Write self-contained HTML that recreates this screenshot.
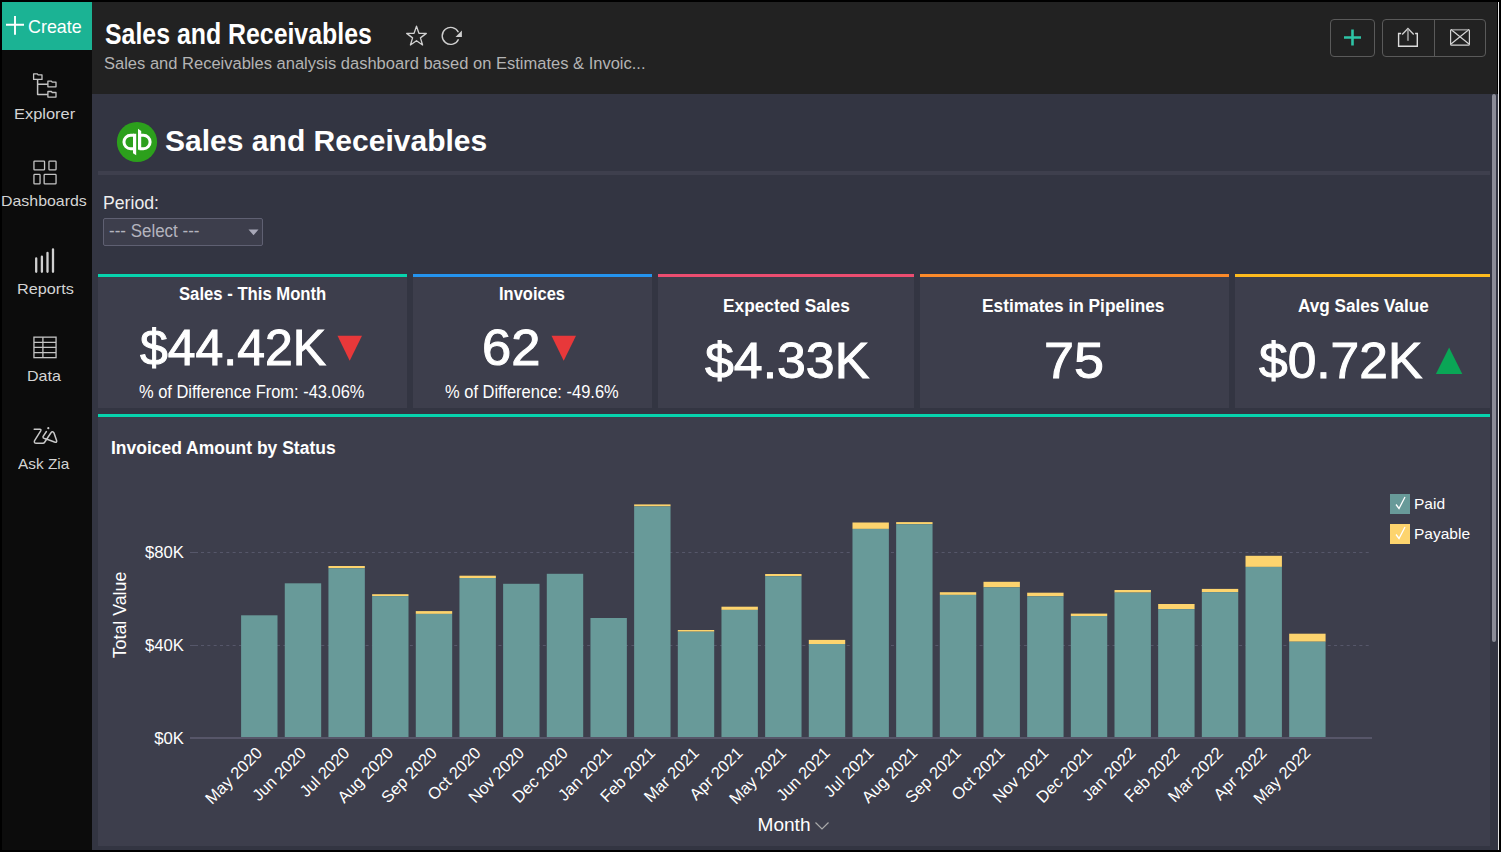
<!DOCTYPE html>
<html><head><meta charset="utf-8">
<style>
*{margin:0;padding:0;box-sizing:border-box}
html,body{width:1501px;height:852px;overflow:hidden;background:#000}
body{position:relative;font-family:"Liberation Sans",sans-serif;color:#fff}
.a{position:absolute}
.t{position:absolute;white-space:nowrap;line-height:1;transform-origin:0 0}
</style></head><body>

<style>
#hdr{left:2px;top:2px;width:1495px;height:92px;background:#222222}
#rline{left:1498px;top:2px;width:1px;height:848px;background:#e6e6e6}
#side{left:2px;top:2px;width:90px;height:848px;background:#0c0c0c}
#create{left:2px;top:2px;width:90px;height:48px;background:#1bb394}
#dash{left:92px;top:94px;width:1406px;height:756px;background:#333542}
.card{position:absolute;top:274px;height:134px;background:#3d3e4c}
.card .bar{position:absolute;left:0;top:0;right:0;height:3px}
.btn{border:1px solid #5a5a5a;border-radius:4px}
</style>
<div id="hdr" class="a"></div>
<div id="rline" class="a"></div>
<div id="side" class="a"></div>
<div id="create" class="a"></div>
<div id="dash" class="a"></div>

<!-- create -->
<svg class="a" style="left:6px;top:16px" width="18" height="19"><path d="M9 0V18.8M0 8.8H18" stroke="#fff" stroke-width="1.9"/></svg>

<!-- sidebar nav -->
<svg class="a" style="left:30px;top:70px" width="30" height="32" fill="none" stroke="#c4c4c4" stroke-width="1.3" stroke-linejoin="round">
<path d="M3.6 9.4V3.8H7.3L8.1 4.8H12V9.4Z"/>
<path d="M17.9 16.8V11.2H21.4L22.2 12.2H26V16.8Z"/>
<path d="M17.9 27.1V21.5H21.4L22.2 22.5H26V27.1Z"/>
<path d="M7.6 9.4V24.6H17.9M7.6 14.3H17.9" stroke-width="1.5"/>
</svg>

<svg class="a" style="left:30px;top:158px" width="30" height="30" fill="none" stroke="#c4c4c4" stroke-width="1.3">
<rect x="3.95" y="3.15" width="10.6" height="8.7" rx="0.7"/>
<rect x="18.95" y="3.15" width="7.1" height="8.7" rx="0.7"/>
<rect x="3.95" y="16.45" width="6.1" height="9.4" rx="0.7"/>
<rect x="14.15" y="16.45" width="11.9" height="9.4" rx="0.7"/>
</svg>

<svg class="a" style="left:30px;top:245px" width="30" height="30" fill="none" stroke="#d0d0d0" stroke-width="2.3" stroke-linecap="round">
<path d="M6.2 13.4V26.8M11.9 11.7V26.8M17.5 8V26.8M23 4.3V26.8"/>
</svg>

<svg class="a" style="left:30px;top:334px" width="30" height="28" fill="none" stroke="#c4c4c4" stroke-width="1.3">
<rect x="3.95" y="3.15" width="22.1" height="20.5"/>
<path d="M3.95 8.3H26.05M3.95 13.3H26.05M3.95 18.7H26.05M12.9 3.15V23.65"/>
</svg>

<svg class="a" style="left:30px;top:424px" width="30" height="24" fill="none" stroke="#c8c8c8" stroke-width="1.5" stroke-linejoin="round" stroke-linecap="round">
<path d="M4.2 5.3H9.8Q11.5 5.3 10.7 6.9L4.6 16.6Q3.6 19.3 6.4 19.3H13Q14 19.3 14.8 18L20.8 9Q22.6 6.6 24.1 9.2L26.6 16.4Q27.2 18.9 24.5 18L17 15.2"/>
<path d="M16.4 7.5L13 12.6Q12.7 14 14.5 14.6L17 15.2"/>
<circle cx="18.3" cy="4.2" r="1.1" fill="#c8c8c8" stroke="none"/>
</svg>

<!-- header -->
<svg class="a" style="left:400px;top:20px" width="70" height="32" fill="none" stroke="#d0d0d0" stroke-width="1.4">
<g transform="translate(16.5 16) scale(0.935) translate(-16.5 -16)"><path d="M16.5 5.5L19.1 13.1L27 13.2L20.7 18L23 25.6L16.5 21L10 25.6L12.3 18L6 13.2L13.9 13.1Z" stroke-linejoin="round"/></g>
<path d="M58.4 12.3A8.5 8.5 0 1 0 58.5 19.2"/>
<path d="M55.5 16.9L61.9 10.5V16.9Z" fill="#d0d0d0" stroke="none"/>
</svg>

<div class="a btn" style="left:1330px;top:19px;width:45px;height:38px"></div>
<svg class="a" style="left:1330px;top:19px" width="45" height="38"><path d="M22.5 10.5V26.5M14 18.5H31" stroke="#2ec4a6" stroke-width="2.6"/></svg>
<div class="a btn" style="left:1382px;top:19px;width:104px;height:38px"></div>
<div class="a" style="left:1434px;top:19px;width:1px;height:38px;background:#5a5a5a"></div>
<svg class="a" style="left:1382px;top:19px" width="104" height="38" fill="none">
<path d="M19.1 14.55H16.6V27.2H35.3V14.55H33.1" stroke="#dcdcdc" stroke-width="1.4"/>
<path d="M20.15 15.4L25.95 9.6L31.75 15.5" stroke="#cfcfcf" stroke-width="1.4"/>
<path d="M25.95 10.6V21.8" stroke="#8a8a8a" stroke-width="2"/>
<rect x="68.6" y="10.6" width="18.8" height="15.6" rx="1" stroke="#d4d4d4" stroke-width="1.2"/>
<path d="M69.6 11L87 25M86.4 11L69 25" stroke="#d4d4d4" stroke-width="1.2"/>
<path d="M70 10.6H86" stroke="#8c8c8c" stroke-width="1.3"/>
</svg>

<!-- scrollbar -->
<div class="a" style="left:1492px;top:94px;width:4px;height:548px;background:#8a8b96;border-radius:2px"></div>

<!-- dashboard title -->
<svg class="a" style="left:116px;top:121px" width="42" height="42">
<circle cx="21" cy="21" r="20.1" fill="#2ca01c"/>
<path d="M18 14.3H14.65A6.7 6.7 0 0 0 14.65 27.7H18" fill="none" stroke="#fff" stroke-width="3"/>
<path d="M23.5 27.7H27.4A6.7 6.7 0 0 0 27.4 14.3H23.5" fill="none" stroke="#fff" stroke-width="3"/>
<path d="M17 12.8H20.2V34.3L17 32.2Z" fill="#fff"/>
<path d="M22 7.8L25.2 9.9V28.7H22Z" fill="#fff"/>
</svg>
<div class="a" style="left:98px;top:171px;width:1392px;height:4px;background:#3e3f4d"></div>

<div class="a" style="left:103px;top:218px;width:160px;height:28px;border:1px solid #5f6072;border-radius:2px;background:#3d3e4c"></div>
<svg class="a" style="left:247px;top:228px" width="13" height="9"><path d="M1.5 1.5H11.5L6.5 7.3Z" fill="#a8a8b8"/></svg>

<!-- KPI cards -->
<div class="card" style="left:98px;width:309px"><div class="bar" style="background:#07d3ad"></div></div>
<div class="card" style="left:413px;width:239px"><div class="bar" style="background:#2493ee"></div></div>
<div class="card" style="left:658px;width:256px"><div class="bar" style="background:#ec4d70"></div></div>
<div class="card" style="left:920px;width:309px"><div class="bar" style="background:#fb8a2a"></div></div>
<div class="card" style="left:1235px;width:255px"><div class="bar" style="background:#fdbb1e"></div></div>

<!-- KPI text -->
<svg class="a" style="left:337px;top:335px" width="26" height="26"><path d="M0.5 0.8H25L12.7 25.8Z" fill="#e8383a"/></svg>

<svg class="a" style="left:551.3px;top:335px" width="26" height="26"><path d="M0.5 0.8H25L12.7 25.8Z" fill="#e8383a"/></svg>



<svg class="a" style="left:1435px;top:346px" width="29" height="29"><path d="M0.9 28.1H27.3L14.1 1.4Z" fill="#0aa656"/></svg>

<!-- CHART_PANEL -->
<div class="a" style="left:98px;top:414px;width:1392px;height:432px;background:#3d3e4c"></div>
<div class="a" style="left:98px;top:414px;width:1392px;height:3px;background:#07d3ad"></div>


<div class="t" style="left:28.42px;top:18.26px;font-size:18.5px;font-weight:normal;color:#ffffff;transform:scaleX(0.9670)">Create</div>
<div class="t" style="left:14.09px;top:106.05px;font-size:15px;font-weight:normal;color:#d4d4d4;transform:scaleX(1.0948)">Explorer</div>
<div class="t" style="left:1.43px;top:193.05px;font-size:15px;font-weight:normal;color:#d4d4d4;transform:scaleX(1.0608)">Dashboards</div>
<div class="t" style="left:17.19px;top:281.25px;font-size:15px;font-weight:normal;color:#d4d4d4;transform:scaleX(1.0827)">Reports</div>
<div class="t" style="left:27.44px;top:368.05px;font-size:15px;font-weight:normal;color:#d4d4d4;transform:scaleX(1.0713)">Data</div>
<div class="t" style="left:18.48px;top:455.55px;font-size:15px;font-weight:normal;color:#d4d4d4;transform:scaleX(1.0241)">Ask Zia</div>
<div class="t" style="left:105.14px;top:20.19px;font-size:29px;font-weight:bold;color:#ffffff;transform:scaleX(0.8575)">Sales and Receivables</div>
<div class="t" style="left:103.89px;top:54.99px;font-size:16.3px;font-weight:normal;color:#b4b4b4;transform:scaleX(1.0142)">Sales and Receivables analysis dashboard based on Estimates &amp; Invoic...</div>
<div class="t" style="left:164.50px;top:125.60px;font-size:30px;font-weight:bold;color:#ffffff;transform:scaleX(1.0013)">Sales and Receivables</div>
<div class="t" style="left:102.75px;top:195.39px;font-size:17.5px;font-weight:normal;color:#eeeeee;transform:scaleX(1.0092)">Period:</div>
<div class="t" style="left:109.06px;top:222.09px;font-size:18px;font-weight:normal;color:#b4b4be;transform:scaleX(0.9426)">--- Select ---</div>
<div class="t" style="left:178.59px;top:285.06px;font-size:18.8px;font-weight:bold;color:#ffffff;transform:scaleX(0.8876)">Sales - This Month</div>
<div class="t" style="left:139.71px;top:322.56px;font-size:49.3px;font-weight:normal;color:#ffffff;transform:scaleX(1.0124);-webkit-text-stroke:1.0px #ffffff">$44.42K</div>
<div class="t" style="left:138.81px;top:382.89px;font-size:18px;font-weight:normal;color:#ffffff;transform:scaleX(0.9136)">% of Difference From: -43.06%</div>
<div class="t" style="left:498.88px;top:284.76px;font-size:18.8px;font-weight:bold;color:#ffffff;transform:scaleX(0.8779)">Invoices</div>
<div class="t" style="left:481.89px;top:322.66px;font-size:49.3px;font-weight:normal;color:#ffffff;transform:scaleX(1.0646);-webkit-text-stroke:1.0px #ffffff">62</div>
<div class="t" style="left:445.22px;top:383.19px;font-size:18px;font-weight:normal;color:#ffffff;transform:scaleX(0.9153)">% of Difference: -49.6%</div>
<div class="t" style="left:723.45px;top:297.36px;font-size:18.8px;font-weight:bold;color:#ffffff;transform:scaleX(0.9203)">Expected Sales</div>
<div class="t" style="left:705.42px;top:335.86px;font-size:50.6px;font-weight:normal;color:#ffffff;transform:scaleX(1.0243);-webkit-text-stroke:1.0px #ffffff">$4.33K</div>
<div class="t" style="left:982.20px;top:297.06px;font-size:18.8px;font-weight:bold;color:#ffffff;transform:scaleX(0.9200)">Estimates in Pipelines</div>
<div class="t" style="left:1043.93px;top:336.26px;font-size:50.6px;font-weight:normal;color:#ffffff;transform:scaleX(1.0659);-webkit-text-stroke:1.0px #ffffff">75</div>
<div class="t" style="left:1297.50px;top:296.66px;font-size:18.8px;font-weight:bold;color:#ffffff;transform:scaleX(0.9119)">Avg Sales Value</div>
<div class="t" style="left:1259.49px;top:336.16px;font-size:50.6px;font-weight:normal;color:#ffffff;transform:scaleX(1.0182);-webkit-text-stroke:1.0px #ffffff">$0.72K</div>
<div class="t" style="left:111.02px;top:438.96px;font-size:18.8px;font-weight:bold;color:#ffffff;transform:scaleX(0.9304)">Invoiced Amount by Status</div>
<svg class="a" style="left:0;top:0" width="1501" height="852" font-family="Liberation Sans">
<path d="M201 552.5H1372M201 645.5H1372" stroke="#56576a" stroke-width="1" stroke-dasharray="3 3.33"/>
<path d="M190 552.5H198M190 645.5H198" stroke="#56576a" stroke-width="1"/>
<rect x="241.10" y="615.3" width="36.4" height="121.7" fill="#689a99"/>
<rect x="284.77" y="583.3" width="36.4" height="153.7" fill="#689a99"/>
<rect x="328.44" y="566.0" width="36.4" height="2.2" fill="#fdd46e"/>
<rect x="328.44" y="568.2" width="36.4" height="168.8" fill="#689a99"/>
<rect x="372.11" y="594.2" width="36.4" height="1.9" fill="#fdd46e"/>
<rect x="372.11" y="596.1" width="36.4" height="140.9" fill="#689a99"/>
<rect x="415.78" y="611.1" width="36.4" height="2.8" fill="#fdd46e"/>
<rect x="415.78" y="613.9" width="36.4" height="123.1" fill="#689a99"/>
<rect x="459.45" y="575.7" width="36.4" height="2.3" fill="#fdd46e"/>
<rect x="459.45" y="578.0" width="36.4" height="159.0" fill="#689a99"/>
<rect x="503.12" y="583.8" width="36.4" height="153.2" fill="#689a99"/>
<rect x="546.79" y="573.8" width="36.4" height="163.2" fill="#689a99"/>
<rect x="590.46" y="618.0" width="36.4" height="119.0" fill="#689a99"/>
<rect x="634.13" y="504.4" width="36.4" height="2.0" fill="#fdd46e"/>
<rect x="634.13" y="506.4" width="36.4" height="230.6" fill="#689a99"/>
<rect x="677.80" y="630.0" width="36.4" height="1.7" fill="#fdd46e"/>
<rect x="677.80" y="631.7" width="36.4" height="105.3" fill="#689a99"/>
<rect x="721.47" y="606.7" width="36.4" height="3.2" fill="#fdd46e"/>
<rect x="721.47" y="609.9" width="36.4" height="127.1" fill="#689a99"/>
<rect x="765.14" y="574.0" width="36.4" height="2.2" fill="#fdd46e"/>
<rect x="765.14" y="576.2" width="36.4" height="160.8" fill="#689a99"/>
<rect x="808.81" y="639.9" width="36.4" height="4.1" fill="#fdd46e"/>
<rect x="808.81" y="644.0" width="36.4" height="93.0" fill="#689a99"/>
<rect x="852.48" y="522.5" width="36.4" height="6.4" fill="#fdd46e"/>
<rect x="852.48" y="528.9" width="36.4" height="208.1" fill="#689a99"/>
<rect x="896.15" y="522.1" width="36.4" height="2.1" fill="#fdd46e"/>
<rect x="896.15" y="524.2" width="36.4" height="212.8" fill="#689a99"/>
<rect x="939.82" y="592.2" width="36.4" height="2.7" fill="#fdd46e"/>
<rect x="939.82" y="594.9" width="36.4" height="142.1" fill="#689a99"/>
<rect x="983.49" y="581.8" width="36.4" height="5.5" fill="#fdd46e"/>
<rect x="983.49" y="587.3" width="36.4" height="149.7" fill="#689a99"/>
<rect x="1027.16" y="592.7" width="36.4" height="3.6" fill="#fdd46e"/>
<rect x="1027.16" y="596.3" width="36.4" height="140.7" fill="#689a99"/>
<rect x="1070.83" y="613.6" width="36.4" height="2.4" fill="#fdd46e"/>
<rect x="1070.83" y="616.0" width="36.4" height="121.0" fill="#689a99"/>
<rect x="1114.50" y="590.0" width="36.4" height="2.6" fill="#fdd46e"/>
<rect x="1114.50" y="592.6" width="36.4" height="144.4" fill="#689a99"/>
<rect x="1158.17" y="604.0" width="36.4" height="5.1" fill="#fdd46e"/>
<rect x="1158.17" y="609.1" width="36.4" height="127.9" fill="#689a99"/>
<rect x="1201.84" y="588.9" width="36.4" height="3.2" fill="#fdd46e"/>
<rect x="1201.84" y="592.1" width="36.4" height="144.9" fill="#689a99"/>
<rect x="1245.51" y="555.8" width="36.4" height="11.1" fill="#fdd46e"/>
<rect x="1245.51" y="566.9" width="36.4" height="170.1" fill="#689a99"/>
<rect x="1289.18" y="633.7" width="36.4" height="8.0" fill="#fdd46e"/>
<rect x="1289.18" y="641.7" width="36.4" height="95.3" fill="#689a99"/>
<rect x="190" y="737" width="1182" height="2" fill="#575669"/>
<text x="263.3" y="754" transform="rotate(-45 263.3 754)" text-anchor="end" font-size="16.5" fill="#fff">May 2020</text>
<text x="307.0" y="754" transform="rotate(-45 307.0 754)" text-anchor="end" font-size="16.5" fill="#fff">Jun 2020</text>
<text x="350.6" y="754" transform="rotate(-45 350.6 754)" text-anchor="end" font-size="16.5" fill="#fff">Jul 2020</text>
<text x="394.3" y="754" transform="rotate(-45 394.3 754)" text-anchor="end" font-size="16.5" fill="#fff">Aug 2020</text>
<text x="438.0" y="754" transform="rotate(-45 438.0 754)" text-anchor="end" font-size="16.5" fill="#fff">Sep 2020</text>
<text x="481.7" y="754" transform="rotate(-45 481.7 754)" text-anchor="end" font-size="16.5" fill="#fff">Oct 2020</text>
<text x="525.3" y="754" transform="rotate(-45 525.3 754)" text-anchor="end" font-size="16.5" fill="#fff">Nov 2020</text>
<text x="569.0" y="754" transform="rotate(-45 569.0 754)" text-anchor="end" font-size="16.5" fill="#fff">Dec 2020</text>
<text x="612.7" y="754" transform="rotate(-45 612.7 754)" text-anchor="end" font-size="16.5" fill="#fff">Jan 2021</text>
<text x="656.3" y="754" transform="rotate(-45 656.3 754)" text-anchor="end" font-size="16.5" fill="#fff">Feb 2021</text>
<text x="700.0" y="754" transform="rotate(-45 700.0 754)" text-anchor="end" font-size="16.5" fill="#fff">Mar 2021</text>
<text x="743.7" y="754" transform="rotate(-45 743.7 754)" text-anchor="end" font-size="16.5" fill="#fff">Apr 2021</text>
<text x="787.3" y="754" transform="rotate(-45 787.3 754)" text-anchor="end" font-size="16.5" fill="#fff">May 2021</text>
<text x="831.0" y="754" transform="rotate(-45 831.0 754)" text-anchor="end" font-size="16.5" fill="#fff">Jun 2021</text>
<text x="874.7" y="754" transform="rotate(-45 874.7 754)" text-anchor="end" font-size="16.5" fill="#fff">Jul 2021</text>
<text x="918.4" y="754" transform="rotate(-45 918.4 754)" text-anchor="end" font-size="16.5" fill="#fff">Aug 2021</text>
<text x="962.0" y="754" transform="rotate(-45 962.0 754)" text-anchor="end" font-size="16.5" fill="#fff">Sep 2021</text>
<text x="1005.7" y="754" transform="rotate(-45 1005.7 754)" text-anchor="end" font-size="16.5" fill="#fff">Oct 2021</text>
<text x="1049.4" y="754" transform="rotate(-45 1049.4 754)" text-anchor="end" font-size="16.5" fill="#fff">Nov 2021</text>
<text x="1093.0" y="754" transform="rotate(-45 1093.0 754)" text-anchor="end" font-size="16.5" fill="#fff">Dec 2021</text>
<text x="1136.7" y="754" transform="rotate(-45 1136.7 754)" text-anchor="end" font-size="16.5" fill="#fff">Jan 2022</text>
<text x="1180.4" y="754" transform="rotate(-45 1180.4 754)" text-anchor="end" font-size="16.5" fill="#fff">Feb 2022</text>
<text x="1224.0" y="754" transform="rotate(-45 1224.0 754)" text-anchor="end" font-size="16.5" fill="#fff">Mar 2022</text>
<text x="1267.7" y="754" transform="rotate(-45 1267.7 754)" text-anchor="end" font-size="16.5" fill="#fff">Apr 2022</text>
<text x="1311.4" y="754" transform="rotate(-45 1311.4 754)" text-anchor="end" font-size="16.5" fill="#fff">May 2022</text>
<text x="184" y="558" text-anchor="end" font-size="16.7" fill="#fff">$80K</text>
<text x="184" y="651" text-anchor="end" font-size="16.7" fill="#fff">$40K</text>
<text x="184" y="744" text-anchor="end" font-size="16.7" fill="#fff">$0K</text>
<text x="126.3" y="615" transform="rotate(-90 126.3 615)" text-anchor="middle" font-size="17.8" fill="#fff">Total Value</text>
<text x="784" y="830.6" text-anchor="middle" font-size="18" textLength="53" lengthAdjust="spacingAndGlyphs" fill="#fff">Month</text>
<path d="M815.5 822.5L822 829L828.5 822.5" fill="none" stroke="#aaa" stroke-width="1.2"/>
<rect x="1390" y="494" width="20" height="20" fill="#689a99"/>
<path d="M1396 504.5L1399 508.5L1405 497" fill="none" stroke="#fff" stroke-width="1.3"/>
<rect x="1390" y="524" width="20" height="20" fill="#fdd46e"/>
<path d="M1396 534.5L1399 538.5L1405 527" fill="none" stroke="#fff" stroke-width="1.3"/>
<text x="1414" y="509" font-size="15.5" fill="#fff">Paid</text>
<text x="1414" y="539" font-size="15.5" fill="#fff">Payable</text>
</svg>
</body></html>
